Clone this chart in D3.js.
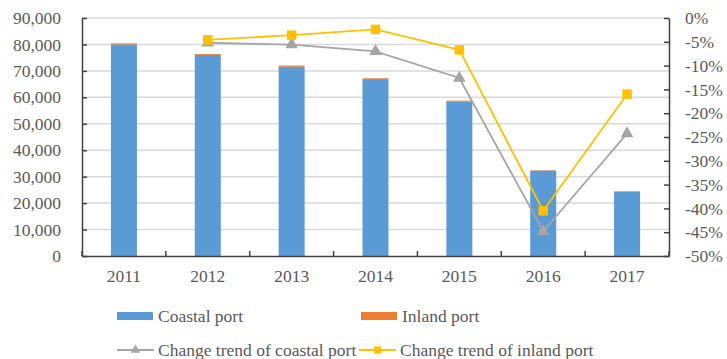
<!DOCTYPE html>
<html>
<head>
<meta charset="utf-8">
<script src="https://cdn.jsdelivr.net/npm/d3@7"></script>
<style>
  body { margin: 0; background: #fff; }
  text { font-family: "Liberation Serif", "Times New Roman", serif; fill: #595959; }
</style>
</head>
<body>
<div id="chart"></div>
<script>
// data
const years = ["2011", "2012", "2013", "2014", "2015", "2016", "2017"];
const coastal = [80000, 76000, 71600, 66900, 58500, 32300, 24400];
const inland = [400, 350, 450, 300, 250, 150, 100];
const coastalTrend = [null, -5.2, -5.6, -7.0, -12.6, -44.8, -24.3];
const inlandTrend = [null, -4.6, -3.6, -2.4, -6.7, -40.5, -16.0];
const leftTicks = [0, 10000, 20000, 30000, 40000, 50000, 60000, 70000, 80000, 90000];
const rightTicks = [0, -5, -10, -15, -20, -25, -30, -35, -40, -45, -50];

const width = 727;
const height = 359;
const margin = { top: 18, right: 58, bottom: 103, left: 82 };
const fontSize = "17.5px";

const blue = "#5b9bd5", orange = "#ed7d31", gray = "#a5a5a5", yellow = "#ffc000";

const svg = d3.select("#chart")
    .append("svg")
    .attr("width", width)
    .attr("height", height);

const x = d3.scaleBand()
    .domain(years)
    .range([margin.left, width - margin.right]);

const y = d3.scaleLinear()
    .domain([0, 90000])
    .range([height - margin.bottom, margin.top]);

const y2 = d3.scaleLinear()
    .domain([-50, 0])
    .range([height - margin.bottom, margin.top]);

//gridlines
svg.append("g")
    .selectAll("line")
    .data(leftTicks.slice(1))
    .enter()
    .append("line")
    .attr("x1", margin.left)
    .attr("x2", width - margin.right)
    .attr("y1", d => y(d))
    .attr("y2", d => y(d))
    .attr("stroke", "#d9d9d9")
    .attr("stroke-width", 1.5);

//bars
const barW = x.bandwidth() * 0.31;
const bars = svg.append("g");
bars.selectAll(".coastal")
    .data(years)
    .enter()
    .append("rect")
    .attr("x", d => x(d) + (x.bandwidth() - barW) / 2)
    .attr("width", barW)
    .attr("y", (d, i) => y(coastal[i]))
    .attr("height", (d, i) => y(0) - y(coastal[i]))
    .attr("fill", blue);

bars.selectAll(".inland")
    .data(years)
    .enter()
    .append("rect")
    .attr("x", d => x(d) + (x.bandwidth() - barW) / 2)
    .attr("width", barW)
    .attr("y", (d, i) => y(coastal[i] + inland[i]))
    .attr("height", (d, i) => y(coastal[i]) - y(coastal[i] + inland[i]))
    .attr("fill", orange);

//axes
const axisColor = "#404040";

const xAxis = svg.append("g")
    .attr("transform", "translate(0," + y(0) + ")")
    .call(d3.axisBottom(x).tickSizeInner(-5).tickSizeOuter(0).tickPadding(14));

// ticks between categories instead of at centres
xAxis.selectAll(".tick line").remove();
xAxis.selectAll(".between")
    .data(d3.range(years.length + 1))
    .enter()
    .append("line")
    .attr("x1", i => margin.left + i * x.step())
    .attr("x2", i => margin.left + i * x.step())
    .attr("y1", 0)
    .attr("y2", -5)
    .attr("stroke", axisColor)
    .attr("stroke-width", 1.5);

const yAxis = svg.append("g")
    .attr("transform", "translate(" + margin.left + ",0)")
    .call(d3.axisLeft(y).tickValues(leftTicks).tickSizeInner(-5).tickSizeOuter(0)
        .tickPadding(21).tickFormat(d3.format(",")));

const yAxis2 = svg.append("g")
    .attr("transform", "translate(" + (width - margin.right) + ",0)")
    .call(d3.axisRight(y2).tickValues(rightTicks).tickSizeInner(-5).tickSizeOuter(0)
        .tickPadding(16).tickFormat(d => d + "%"));

[xAxis, yAxis, yAxis2].forEach(function(a) {
    a.select(".domain").attr("stroke", axisColor).attr("stroke-width", 1.5);
    a.selectAll(".tick line").attr("stroke", axisColor).attr("stroke-width", 1.5);
    a.selectAll("text").style("fill", "#595959").style("font-size", fontSize)
        .style("font-family", "'Liberation Serif', 'Times New Roman', serif");
});

//trend lines
const cx = d => x(d) + x.bandwidth() / 2;

function drawTrend(values, color, marker) {
    const pts = years.map((d, i) => ({ year: d, v: values[i] })).filter(d => d.v !== null);
    const line = d3.line().x(d => cx(d.year)).y(d => y2(d.v));
    svg.append("path")
        .datum(pts)
        .attr("d", line)
        .attr("fill", "none")
        .attr("stroke", color)
        .attr("stroke-width", 1.8);
    svg.append("g")
        .selectAll("path")
        .data(pts)
        .enter()
        .append("path")
        .attr("transform", d => "translate(" + cx(d.year) + "," + y2(d.v) + ")")
        .attr("d", d3.symbol().type(marker).size(marker === d3.symbolSquare ? 90 : 70))
        .attr("fill", color);
}

drawTrend(coastalTrend, gray, d3.symbolTriangle);
drawTrend(inlandTrend, yellow, d3.symbolSquare);

//legend
const legend = svg.append("g");
const rows = [
    { label: "Coastal port", color: blue, type: "bar", x: 117, y: 316 },
    { label: "Inland port", color: orange, type: "bar", x: 361, y: 316 },
    { label: "Change trend of coastal port", color: gray, type: "line", marker: d3.symbolTriangle, x: 117, y: 350 },
    { label: "Change trend of inland port", color: yellow, type: "line", marker: d3.symbolSquare, x: 359, y: 350 }
];

rows.forEach(function(r) {
    const g = legend.append("g").attr("transform", "translate(" + r.x + "," + r.y + ")");
    if (r.type === "bar") {
        g.append("rect").attr("x", 0).attr("y", -4).attr("width", 36).attr("height", 8).attr("fill", r.color);
    } else {
        g.append("line").attr("x1", 0).attr("x2", 37).attr("y1", 0).attr("y2", 0)
            .attr("stroke", r.color).attr("stroke-width", 1.8);
        g.append("path").attr("transform", "translate(18.5,0)")
            .attr("d", d3.symbol().type(r.marker).size(r.marker === d3.symbolSquare ? 50 : 40))
            .attr("fill", r.color);
    }
    g.append("text")
        .attr("x", 41)
        .attr("y", 6)
        .style("font-size", fontSize)
        .text(r.label);
});
</script>
</body>
</html>
